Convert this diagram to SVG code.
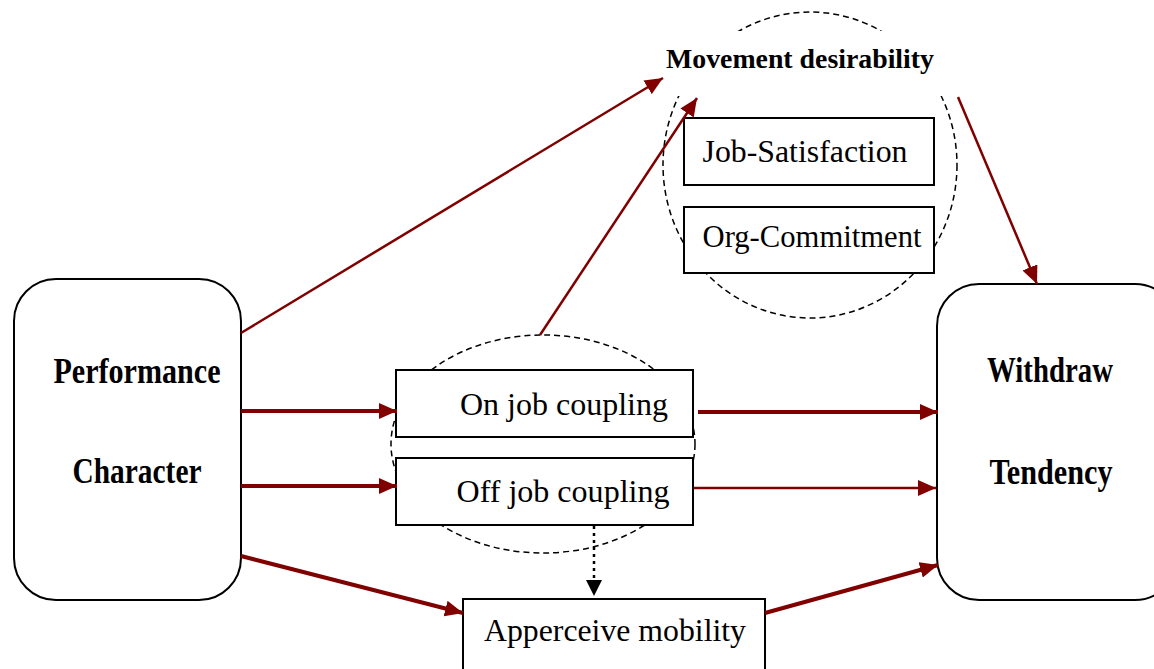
<svg xmlns="http://www.w3.org/2000/svg" width="1154" height="669" viewBox="0 0 1154 669">
<defs>
<style>
.box{fill:#fff;stroke:#000;stroke-width:2}
.dash{fill:none;stroke:#000;stroke-width:1.5;stroke-dasharray:6,4}
.red{fill:none;stroke:#800000;stroke-width:2.5}
.redt{fill:none;stroke:#800000;stroke-width:4}
text{font-family:'Liberation Serif','Times New Roman',Times,serif;fill:#000}
.big{font-weight:bold;font-size:35px}
.lbl{font-size:32px}
.md{font-weight:bold;font-size:27px}
</style>
<marker id="ah" markerUnits="userSpaceOnUse" markerWidth="20" markerHeight="16" refX="18" refY="8" orient="auto">
<path d="M0,0 L18,8 L0,16 Z" fill="#800000"/>
</marker>
<marker id="ahb" markerUnits="userSpaceOnUse" markerWidth="18" markerHeight="16" refX="16" refY="8" orient="auto">
<path d="M0,0 L16,8 L0,16 Z" fill="#000"/>
</marker>
</defs>
<rect width="1154" height="669" fill="#fff"/>
<g id="circles">
<ellipse class="dash" cx="810" cy="165" rx="147" ry="153"/>
<ellipse class="dash" cx="543" cy="444" rx="152" ry="109"/>
<rect x="650" y="31" width="308" height="65" fill="#fff"/>
</g>
<g id="performance">
<rect class="box" x="14" y="279" width="227" height="321" rx="42"/>
<text class="big" x="137" y="383" text-anchor="middle" textLength="167" lengthAdjust="spacingAndGlyphs">Performance</text>
<text class="big" x="137" y="483" text-anchor="middle" textLength="129" lengthAdjust="spacingAndGlyphs">Character</text>
</g>
<g id="withdraw">
<rect class="box" x="937" y="284" width="240" height="316" rx="42"/>
<text class="big" x="1050" y="382" text-anchor="middle" textLength="126" lengthAdjust="spacingAndGlyphs">Withdraw</text>
<text class="big" x="1051" y="484" text-anchor="middle" textLength="123" lengthAdjust="spacingAndGlyphs">Tendency</text>
</g>
<g id="movement">
<text class="md" x="800" y="68" text-anchor="middle" textLength="268" lengthAdjust="spacingAndGlyphs">Movement desirability</text>
</g>
<g id="jobsat">
<rect class="box" x="684" y="118" width="250" height="67"/>
<text class="lbl" x="805" y="162" text-anchor="middle" textLength="205" lengthAdjust="spacingAndGlyphs">Job-Satisfaction</text>
</g>
<g id="orgcom">
<rect class="box" x="684" y="207" width="250" height="66"/>
<text class="lbl" x="812" y="247" text-anchor="middle" textLength="219" lengthAdjust="spacingAndGlyphs">Org-Commitment</text>
</g>
<g id="onjob">
<rect class="box" x="396" y="370" width="297" height="67"/>
<text class="lbl" x="564" y="415" text-anchor="middle" textLength="208" lengthAdjust="spacingAndGlyphs">On job coupling</text>
</g>
<g id="offjob">
<rect class="box" x="396" y="458" width="297" height="67"/>
<text class="lbl" x="563" y="502" text-anchor="middle" textLength="213" lengthAdjust="spacingAndGlyphs">Off job coupling</text>
</g>
<g id="apperceive">
<rect class="box" x="463" y="599" width="302" height="85"/>
<text class="lbl" x="615" y="641" text-anchor="middle" textLength="262" lengthAdjust="spacingAndGlyphs">Apperceive mobility</text>
</g>
<g id="connectors">
<line class="red" x1="241" y1="333" x2="663" y2="78" marker-end="url(#ah)"/>
<line class="red" x1="540" y1="335" x2="697" y2="98" marker-end="url(#ah)"/>
<line class="red" x1="958" y1="97" x2="1037" y2="284" marker-end="url(#ah)"/>
<line class="redt" x1="241" y1="411" x2="397" y2="411" marker-end="url(#ah)"/>
<line class="redt" x1="241" y1="486" x2="397" y2="486" marker-end="url(#ah)"/>
<line class="redt" x1="241" y1="556" x2="463" y2="613" marker-end="url(#ah)"/>
<line class="redt" x1="698" y1="412" x2="938" y2="412" marker-end="url(#ah)"/>
<line class="red" x1="694" y1="488" x2="936" y2="488" marker-end="url(#ah)"/>
<line class="redt" x1="765" y1="613" x2="938" y2="565" marker-end="url(#ah)"/>
<line x1="594" y1="526" x2="594" y2="596" stroke="#000" stroke-width="2.5" stroke-dasharray="3,4" marker-end="url(#ahb)"/>
</g>
</svg>
